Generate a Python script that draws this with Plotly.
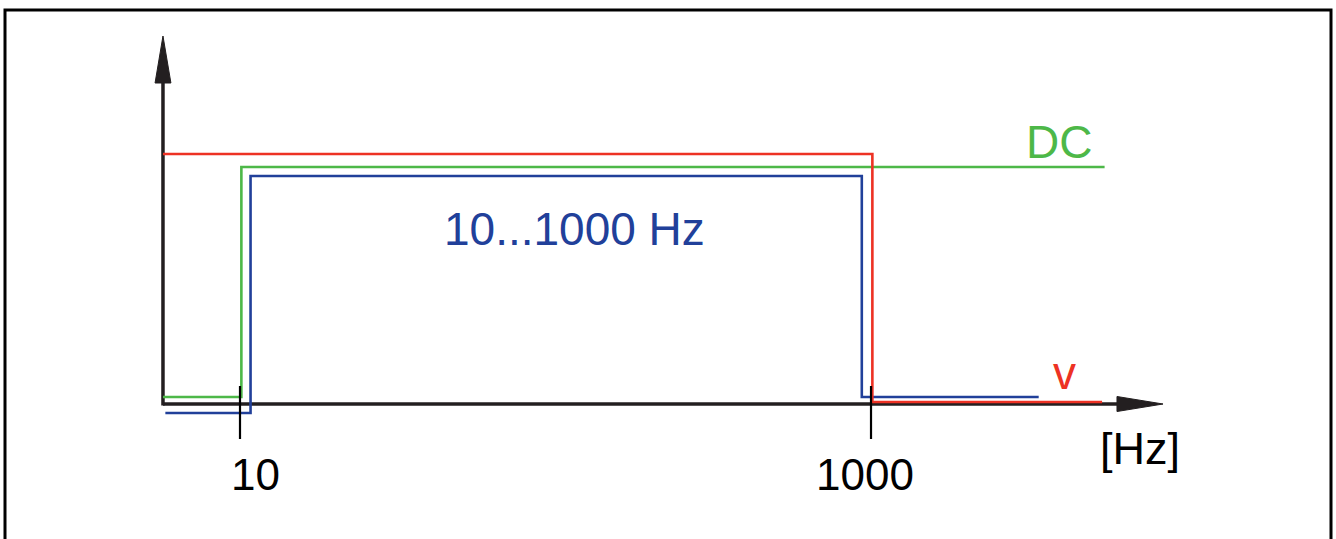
import numpy as np
import plotly.graph_objects as go

# ---- data (frequency in Hz, level in arbitrary schematic units) ----
red_f = [5.7, 1010, 1010, 5400]
red_v = [250, 250, 2, 2]
green_f = [5.7, 10.1, 10.1, 5500]
green_v = [7, 7, 237, 237]
blue_f = [5.8, 10.8, 10.8, 935, 935, 3400]
blue_v = [-9, -9, 228, 228, 7, 7]

tick_freqs = [10, 1000]
tick_labels = ["10", "1000"]

# axis geometry (schematic)
f_origin = 5.7
x_arrow_base, x_arrow_tip = 6020, 8425
y_arrow_base, y_arrow_tip = 321, 368
arrow_half_h = 7.5
y_arrow_f = [5.38, 6.04]

BLACK = "#231F20"
RED = "#ED3224"
GREEN = "#4DB848"
BLUE = "#21409A"
FONT = "Liberation Sans, Arial, sans-serif"

fig = go.Figure()

# axes lines
fig.add_trace(go.Scatter(x=[f_origin, x_arrow_base + 200], y=[0, 0], mode="lines",
                         line=dict(color=BLACK, width=3.5), hoverinfo="skip"))
fig.add_trace(go.Scatter(x=[f_origin, f_origin], y=[-1.5, y_arrow_base + 5], mode="lines",
                         line=dict(color=BLACK, width=3.5), hoverinfo="skip"))
# arrow heads
fig.add_trace(go.Scatter(x=[x_arrow_base, x_arrow_tip, x_arrow_base, x_arrow_base],
                         y=[arrow_half_h, 0, -arrow_half_h, arrow_half_h],
                         mode="lines", fill="toself", fillcolor=BLACK,
                         line=dict(color=BLACK, width=1), hoverinfo="skip"))
fig.add_trace(go.Scatter(x=[y_arrow_f[0], f_origin, y_arrow_f[1], y_arrow_f[0]],
                         y=[y_arrow_base, y_arrow_tip, y_arrow_base, y_arrow_base],
                         mode="lines", fill="toself", fillcolor=BLACK,
                         line=dict(color=BLACK, width=1), hoverinfo="skip"))

# series
for fx, vy, col in [(green_f, green_v, GREEN), (blue_f, blue_v, BLUE), (red_f, red_v, RED)]:
    fig.add_trace(go.Scatter(x=fx, y=vy, mode="lines",
                             line=dict(color=col, width=2.6), hoverinfo="skip"))

# tick marks
for tf in tick_freqs:
    fig.add_trace(go.Scatter(x=[tf, tf], y=[18, -35], mode="lines",
                             line=dict(color="black", width=2.2), hoverinfo="skip"))

annotations = []
for tf, tl, xs in zip(tick_freqs, tick_labels, [15, -6]):
    annotations.append(dict(x=np.log10(tf), y=-70, text=tl, showarrow=False,
                            xanchor="center", yanchor="middle", xshift=xs,
                            font=dict(family=FONT, size=44, color="black")))
annotations += [
    dict(x=np.log10(114.5), y=175, text="10...1000 Hz", showarrow=False,
         xanchor="center", yanchor="middle", font=dict(family=FONT, size=46, color=BLUE)),
    dict(x=3.5959, y=262, text="DC", showarrow=False,
         xanchor="center", yanchor="middle", font=dict(family=FONT, size=46, color=GREEN)),
    dict(x=3.6118, y=31, text="v", showarrow=False,
         xanchor="center", yanchor="middle", font=dict(family=FONT, size=46, color=RED)),
    dict(x=3.8527, y=-44, text="[Hz]", showarrow=False,
         xanchor="center", yanchor="middle", font=dict(family=FONT, size=45, color="black")),
]

fig.update_layout(
    width=1336, height=539,
    margin=dict(l=0, r=0, t=0, b=0),
    paper_bgcolor="white", plot_bgcolor="white",
    showlegend=False,
    xaxis=dict(type="log", range=[0.2393, 4.4738], visible=False, fixedrange=True),
    yaxis=dict(range=[-135, 404], visible=False, fixedrange=True),
    annotations=annotations,
    shapes=[dict(type="rect", xref="paper", yref="paper",
                 x0=5 / 1336, x1=1331 / 1336, y0=-0.05, y1=1 - 10 / 539,
                 line=dict(color="black", width=3))],
)

fig.write_html("out.html", config={"displayModeBar": False},
               post_script="document.body.style.margin='0';document.body.style.overflow='hidden';")
